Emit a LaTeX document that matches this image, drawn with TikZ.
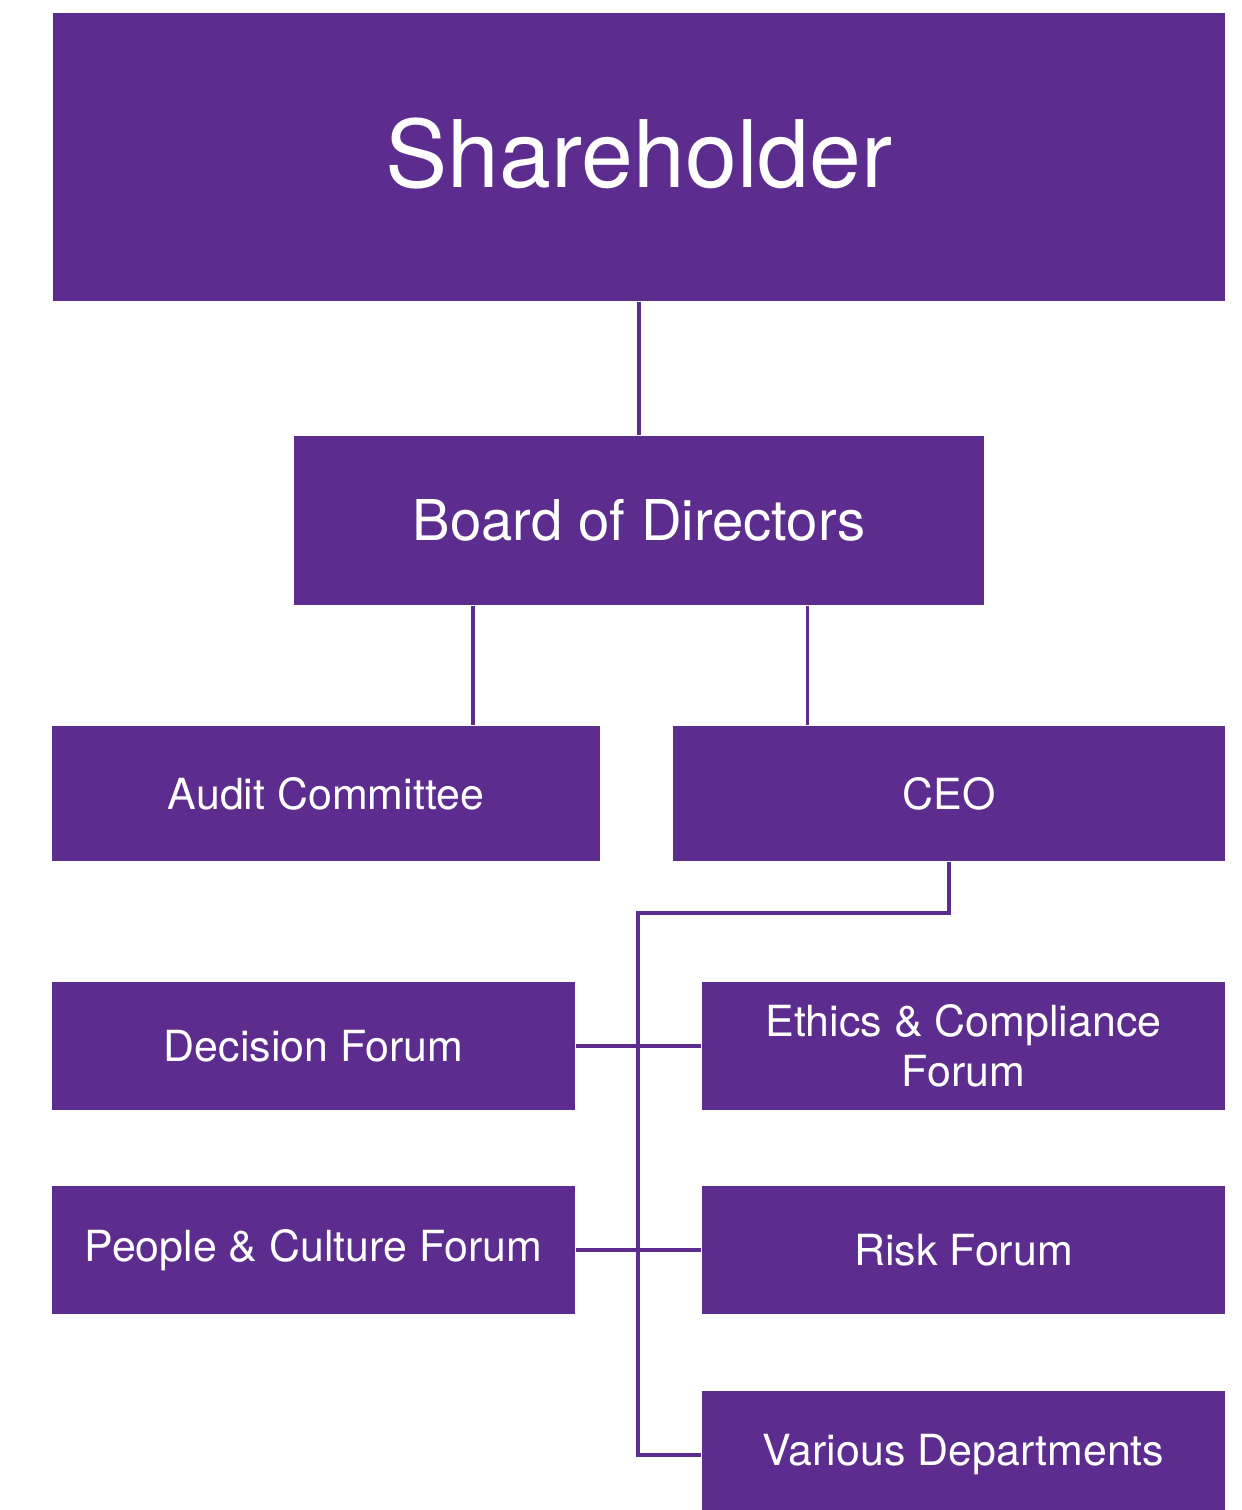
\documentclass[tikz,border=0pt]{standalone}
\usepackage{fontspec}
\setmainfont{TeX Gyre Heros}
\usetikzlibrary{calc}
\definecolor{purp}{HTML}{5C2D8E}

\begin{document}
\begin{tikzpicture}[x=0.01cm, y=-0.01cm,
  box/.style={fill=purp, text=white, inner sep=0, align=center},
  small/.style={font=\fontsize{12.2}{14.2}\selectfont},
  lnk/.style={purp, line width=0.9pt}]
\useasboundingbox (0,0) rectangle (1241,1510);
% top levels
\node[box, minimum width=11.72cm, minimum height=2.88cm, text depth=2.5pt, font=\fontsize{26.5}{30}\selectfont] (share) at (639,157) {Shareholder};
\node[box, minimum width=6.9cm, minimum height=1.69cm, font=\fontsize{16}{19}\selectfont] (board) at (639,520.5) {Board of Directors};
\node[box, small, minimum width=5.48cm, minimum height=1.35cm] (audit) at (326,793.5) {Audit Committee};
\node[box, small, minimum width=5.52cm, minimum height=1.35cm] (ceo) at (949,793.5) {CEO};
% forums
\node[box, small, minimum width=5.23cm, minimum height=1.28cm] (decision) at (313.5,1046) {Decision Forum};
\node[box, small, minimum width=5.23cm, minimum height=1.28cm] (ethics) at (963.5,1046) {Ethics \& Compliance\\Forum};
\node[box, small, minimum width=5.23cm, minimum height=1.28cm] (people) at (313.5,1250) {People \& Culture Forum};
\node[box, small, minimum width=5.23cm, minimum height=1.28cm] (risk) at (963.5,1250) {Risk Forum};
\node[box, small, minimum width=5.23cm, minimum height=1.28cm] (various) at (963.5,1455) {Various Departments};
% links
\coordinate (ba) at ($(board.south west)!.26!(board.south east)$);
\coordinate (bc) at ($(board.south west)!.744!(board.south east)$);
\coordinate (trunk) at (638,913);
\draw[lnk] (share.south -| board.north) -- (board.north);
\draw[lnk] (ba) -- (ba |- audit.north);
\draw[lnk] (bc) -- (bc |- ceo.north);
\draw[lnk] (ceo.south) |- (trunk) -- (trunk |- various.west) -- (various.west);
\draw[lnk] (decision.east) -- (ethics.west);
\draw[lnk] (people.east) -- (risk.west);
\end{tikzpicture}
\end{document}
